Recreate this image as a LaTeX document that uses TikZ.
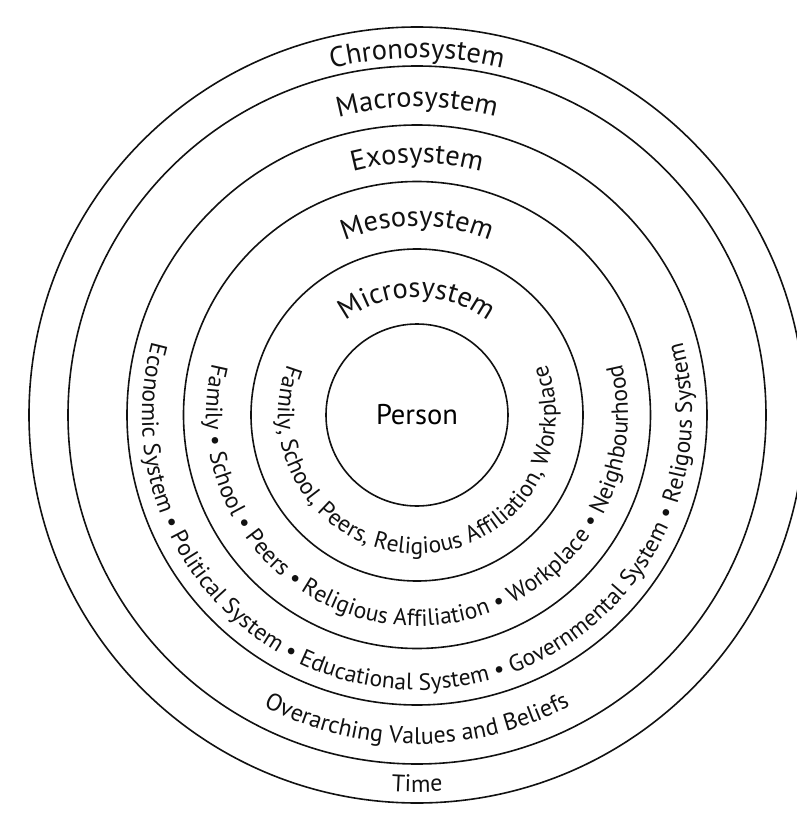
\documentclass[tikz,border=0pt]{standalone}
\usepackage{fontspec}
\setmainfont{PT Sans}
\usepackage{tikz}
\usetikzlibrary{positioning,decorations.text}
\definecolor{ink}{HTML}{111111}
\newcommand{\ringfont}{\fontsize{28.5}{31}\selectfont}
\newcommand{\beltfont}{\fontsize{24}{27}\selectfont}
\newcommand{\listfont}{\fontsize{23.5}{26}\selectfont}

\begin{document}
\begin{tikzpicture}[x=1pt, y=1pt, every node/.style={font=\ringfont},
  ring/.style={draw=ink, line width=1.6pt, circle, inner sep=0pt},
  toparc/.style={decorate, decoration={text along path, text align=center, text color=ink, text={#1}}}]
  \useasboundingbox (-417,-399) rectangle (380,415);

  \node[ring, minimum size=776pt] (chrono) at (0,0) {};
  \node[ring, minimum size=698pt] (macro) at (0,0) {};
  \node[ring, minimum size=580pt] (exo) at (0,0) {};
  \node[ring, minimum size=467pt] (meso) at (0,0) {};
  \node[ring, minimum size=332pt] (micro) at (0,0) {};
  \node[ring, minimum size=182pt] (person) at (0,0) {Person};

  \path[toparc={|\ringfont|Chronosystem}] (150:357) arc[start angle=150, end angle=30, radius=357];
  \path[toparc={|\ringfont|Macrosystem}] (150:308) arc[start angle=150, end angle=30, radius=308];
  \path[toparc={|\ringfont|Exosystem}] (150:252) arc[start angle=150, end angle=30, radius=252];
  \path[toparc={|\ringfont|Mesosystem}] (150:189) arc[start angle=150, end angle=30, radius=189];
  \path[toparc={|\ringfont|Microsystem}] (150:118) arc[start angle=150, end angle=30, radius=118];

  \path[toparc={|\listfont|Family, School, Peers, Religious Affiliation, Workplace}] (120:139) arc[start angle=120, end angle=420, radius=139];
  \path[toparc={|\listfont|Family • School • Peers • Religious Affiliation • Workplace • Neighbourhood}] (120:211) arc[start angle=120, end angle=420, radius=211];
  \path[toparc={|\listfont|Economic System • Political System • Educational System • Governmental System • Religous System}] (120:275) arc[start angle=120, end angle=420, radius=275];
  \path[toparc={|\beltfont|Overarching Values and Beliefs}] (200:329) arc[start angle=200, end angle=340, radius=329];
  \path[toparc={|\beltfont|Time}] (240:377) arc[start angle=240, end angle=300, radius=377];
\end{tikzpicture}
\end{document}
